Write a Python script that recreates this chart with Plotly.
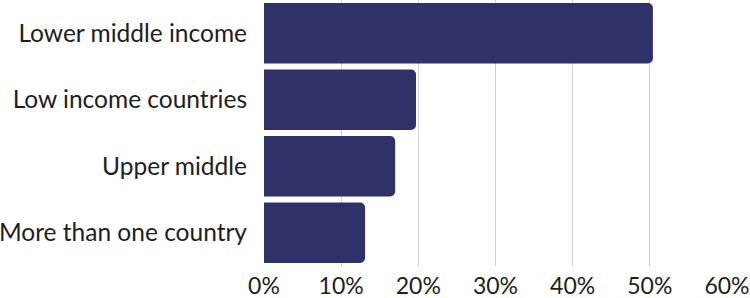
import plotly.graph_objects as go

categories = ["Lower middle income", "Low income countries", "Upper middle", "More than one country"]
values = [0.504, 0.197, 0.170, 0.131]
tick_vals = [0, 0.1, 0.2, 0.3, 0.4, 0.5, 0.6]
tick_text = ["0%", "10%", "20%", "30%", "40%", "50%", "60%"]

fig = go.Figure(go.Bar(
    x=values, y=categories, orientation="h",
    marker=dict(color="#2f3268", line=dict(width=0)),
    hoverinfo="skip",
))

fig.update_layout(
    width=750, height=298,
    margin=dict(l=264, r=23, t=0, b=32),
    paper_bgcolor="white", plot_bgcolor="white",
    bargap=0.09, barcornerradius=5,
    font=dict(family="Lato, sans-serif", size=24.5, color="#1e1e1e"),
    showlegend=False,
)
fig.update_xaxes(
    range=[0, 0.6], tickvals=tick_vals, ticktext=tick_text,
    tickfont=dict(size=23),
    showgrid=True, gridcolor="#d0d0d0", gridwidth=1,
    zeroline=False, showline=False, ticks="", ticklabelstandoff=4,
    automargin=False,
)
fig.update_yaxes(
    categoryorder="array", categoryarray=categories[::-1],
    showgrid=False, zeroline=False, showline=False, ticks="",
    ticklabelstandoff=16, automargin=False,
)

fig.write_html("out.html", config={"displayModeBar": False},
               post_script="document.body.style.margin='0';")
